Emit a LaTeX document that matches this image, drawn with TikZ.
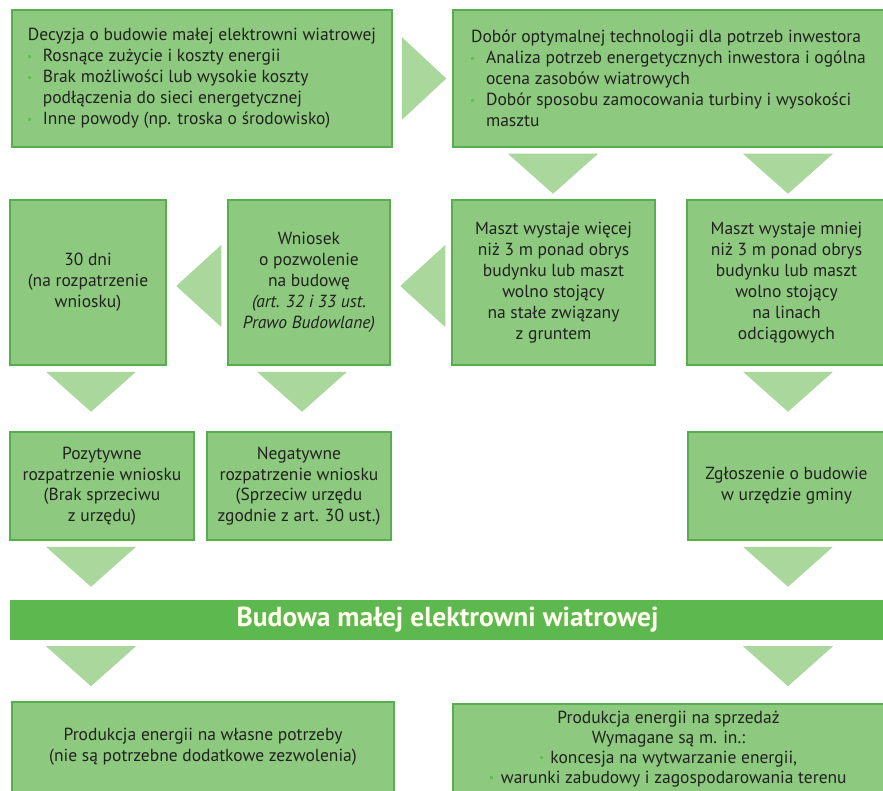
\documentclass[tikz,border=0pt]{standalone}
\usepackage{fontspec}
\setmainfont{PT Sans}
\usetikzlibrary{calc}
\definecolor{boxfill}{HTML}{8DC97E}
\definecolor{boxline}{HTML}{55AF4E}
\definecolor{trifill}{HTML}{A9D79C}
\definecolor{bannerc}{HTML}{5CB84F}
\definecolor{bulc}{HTML}{63BD57}
\definecolor{txt}{HTML}{222220}
\definecolor{bantxt}{HTML}{FFFDEB}
\newcommand\bul{\makebox[15pt][l]{\textcolor{bulc}{\rule[0.22em]{3pt}{3pt}}}}
\newcommand\ind{\hspace*{15pt}}
\newcommand\dtri[2]{\path[tri] let \p1=(#2.south) in (#1pt-45pt,\y1-6pt) -- (#1pt+45pt,\y1-6pt) -- (#1pt,\y1-46pt) -- cycle;}
\newcommand\ltri[1]{\path[tri] let \p1=(#1.west), \p2=(#1.center) in (\x1-6pt,\y2+37.5pt) -- (\x1-6pt,\y2-44.5pt) -- (\x1-51pt,\y2-3.5pt) -- cycle;}
\begin{document}
\begin{tikzpicture}[x=1pt,y=-1pt,
  box/.style={draw=boxline,fill=boxfill,line width=1.5pt,inner sep=0pt,text=txt,
    font=\fontsize{17.5}{21}\selectfont,align=center},
  tri/.style={fill=trifill},
  bannerbox/.style={fill=bannerc,inner sep=0pt,text=bantxt,font=\fontsize{27.5}{32}\selectfont\bfseries}]
\fill[white] (0,0) rectangle (883,791);
\useasboundingbox (0,0) rectangle (883,791);

% row 1
\node[box,align=left,minimum width=380,minimum height=137] (b1) at (202,78.5)
 {Decyzja o budowie małej elektrowni wiatrowej\\
  \bul Rosnące zużycie i koszty energii\\
  \bul Brak możliwości lub wysokie koszty\\
  \ind podłączenia do sieci energetycznej\\
  \bul Inne powody (np. troska o środowisko)};
\node[box,align=left,minimum width=431,minimum height=137] (b2) at (668.5,78.5)
 {Dobór optymalnej technologii dla potrzeb inwestora\\
  \bul Analiza potrzeb energetycznych inwestora i ogólna\\
  \ind ocena zasobów wiatrowych\\
  \bul Dobór sposobu zamocowania turbiny i wysokości\\
  \ind masztu};

% row 2
\node[box,minimum width=156,minimum height=165] (b30) at (88,282.5)
 {30 dni\\(na rozpatrzenie\\wniosku)};
\node[box,minimum width=162,minimum height=165] (bwn) at (309,282.5)
 {Wniosek\\o pozwolenie\\na budowę\\\textit{(art. 32 i 33 ust.}\\\textit{Prawo Budowlane)}};
\node[box,minimum width=203,minimum height=165] (bmw) at (553.5,282.5)
 {Maszt wystaje więcej\\niż 3 m ponad obrys\\budynku lub maszt\\wolno stojący\\na stałe związany\\z gruntem};
\node[box,minimum width=199,minimum height=165] (bmm) at (786.5,282.5)
 {Maszt wystaje mniej\\niż 3 m ponad obrys\\budynku lub maszt\\wolno stojący\\na linach\\odciągowych};

% row 3
\node[box,minimum width=184,minimum height=108,font=\fontsize{17.5}{20.5}\selectfont] (bpoz) at (102,486)
 {Pozytywne\\rozpatrzenie wniosku\\(Brak sprzeciwu\\z urzędu)};
\node[box,minimum width=184,minimum height=108,font=\fontsize{17.5}{20.5}\selectfont] (bneg) at (299,486)
 {Negatywne\\rozpatrzenie wniosku\\(Sprzeciw urzędu\\zgodnie z art. 30 ust.)};
\node[box,minimum width=197,minimum height=108] (bzgl) at (786.5,486)
 {Zgłoszenie o budowie\\w urzędzie gminy};

% banner
\node[bannerbox,minimum width=875,minimum height=40] (ban) at (447.5,620)
 {Budowa małej elektrowni wiatrowej};

% bottom
\node[box,minimum width=382,minimum height=90] (bwl) at (203,747)
 {Produkcja energii na własne potrzeby\\(nie są potrzebne dodatkowe zezwolenia)};
\node[box,minimum width=431,minimum height=90,font=\fontsize{17.5}{20}\selectfont] (bsp) at (668.5,749)
 {Produkcja energii na sprzedaż\\Wymagane są m. in.:\\
  \textcolor{bulc}{\rule[0.22em]{3pt}{3pt}}\, koncesja na wytwarzanie energii,\\
  \textcolor{bulc}{\rule[0.22em]{3pt}{3pt}}\, warunki zabudowy i zagospodarowania terenu};

% connectors (triangles)
\path[tri] let \p1=(b1.east), \p2=(b2.west) in (\x1+9pt,\y1+41.5pt) -- (\x1+9pt,\y1-41.5pt) -- (\x2-6pt,\y1) -- cycle;
\dtri{553}{b2}
\dtri{788}{b2}
\ltri{bmw}
\ltri{bwn}
\dtri{91}{b30}
\dtri{302}{bwn}
\dtri{788}{bmm}
\dtri{91}{bpoz}
\dtri{788}{bzgl}
\dtri{91}{ban}
\dtri{788}{ban}
\end{tikzpicture}
\end{document}
